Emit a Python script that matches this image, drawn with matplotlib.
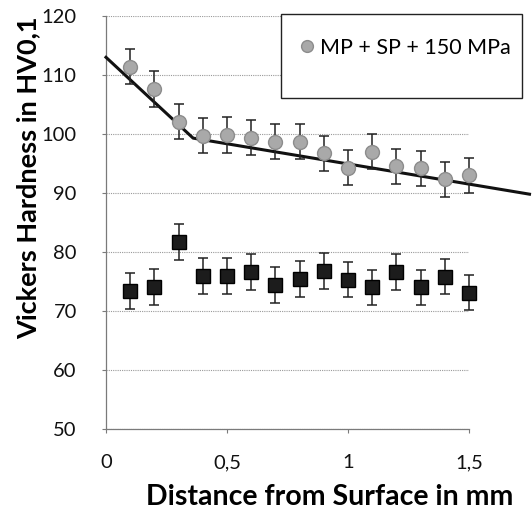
import matplotlib
matplotlib.use("Agg")
import matplotlib.pyplot as plt
from matplotlib.patches import Rectangle
from matplotlib.lines import Line2D

# Data
distance = [0.1, 0.2, 0.3, 0.4, 0.5, 0.6, 0.7, 0.8, 0.9, 1.0, 1.1, 1.2, 1.3, 1.4, 1.5]
hv_treated = [111.4, 107.6, 102.1, 99.7, 99.8, 99.4, 98.7, 98.7, 96.7, 94.3, 97.0, 94.5, 94.2, 92.3, 93.0]
hv_treated_err = [3.0] * 15
hv_base = [73.4, 74.1, 81.7, 75.9, 75.9, 76.6, 74.4, 75.4, 76.8, 75.3, 74.0, 76.6, 74.0, 75.8, 73.1]
hv_base_err = [3.0] * 15
trend_x = [0.0, 0.36, 1.75]
trend_y = [113.0, 99.3, 89.8]
xticks = [0, 0.5, 1, 1.5]
xtick_labels = ["0", "0,5", "1", "1,5"]
yticks = [50, 60, 70, 80, 90, 100, 110, 120]
legend_label = "MP + SP + 150 MPa"

plt.rcParams['font.family'] = ['Lato', 'DejaVu Sans']

W, H = 532, 512
fig = plt.figure(figsize=(W / 100, H / 100), dpi=100)
fig.patch.set_facecolor("white")
ax = fig.add_axes([106 / W, (H - 429) / H, (469 - 106) / W, (429 - 16) / H])

ax.set_xlim(0, 1.5)
ax.set_ylim(50, 120)
ax.grid(True, axis='y', color='#9a9a9a', linewidth=0.8, linestyle=(0, (1, 1)))
ax.set_axisbelow(True)
for s in ['top', 'right']:
    ax.spines[s].set_visible(False)
for s in ['left', 'bottom']:
    ax.spines[s].set_color('#7a7a7a')
    ax.spines[s].set_linewidth(0.9)

ax.set_xticks(xticks)
ax.set_xticklabels(xtick_labels)
ax.set_yticks(yticks)
ax.tick_params(axis='both', labelsize=14.5, colors='#7a7a7a', labelcolor='#111111',
               length=3, width=0.8)
ax.tick_params(axis='x', pad=15)
ax.tick_params(axis='y', pad=18)

# trend line
ax.plot(trend_x, trend_y, color='#111111', linewidth=2.2, clip_on=False, zorder=3)

ax.errorbar(distance, hv_treated, yerr=hv_treated_err, fmt='o', color='#a9a9a9',
            markeredgecolor='#8c8c8c', markersize=10, ecolor='#222222', elinewidth=1.1,
            capsize=3.5, capthick=1.1, clip_on=False, zorder=4)
ax.errorbar(distance, hv_base, yerr=hv_base_err, fmt='s', color='#1c1c1c',
            markeredgecolor='#000000', markersize=10, ecolor='#222222', elinewidth=1.1,
            capsize=3.5, capthick=1.1, clip_on=False, zorder=4)

ax.set_xlabel("Distance from Surface in mm", fontsize=20.5, fontweight='bold')
ax.xaxis.set_label_coords((330 - 106) / 363, (429 - 484) / 413)
ax.set_ylabel("Vickers Hardness in HV0,1", fontsize=19.5, fontweight='bold')
ax.yaxis.set_label_coords((40 - 106) / 363, (429 - 178) / 413)

# legend box
fig.patches.append(Rectangle((281 / W, 1 - 98 / H), (522 - 281) / W, (98 - 14) / H,
                             transform=fig.transFigure, facecolor='white',
                             edgecolor='#222222', linewidth=1.0, zorder=5))
handle = Line2D([], [], linestyle='none', marker='o', markersize=8.5,
                color='#a9a9a9', markeredgecolor='#8c8c8c')
leg = fig.legend([handle], [legend_label], loc='center left',
                 bbox_to_anchor=(296 / W, 1 - 48 / H), bbox_transform=fig.transFigure,
                 frameon=False, fontsize=15.5, handletextpad=0.1, handlelength=1.0,
                 borderpad=0, borderaxespad=0)
leg.set_zorder(6)

fig.savefig("out.png", dpi=100)
